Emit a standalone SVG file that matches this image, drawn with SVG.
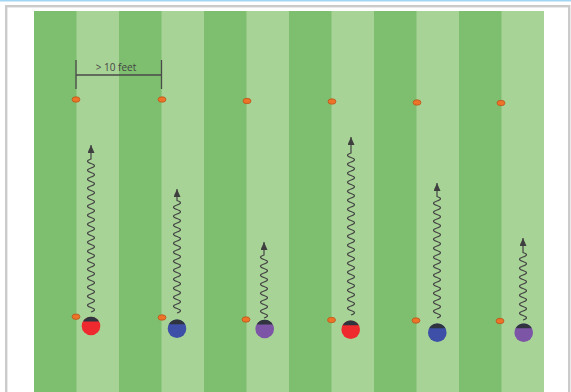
<svg xmlns="http://www.w3.org/2000/svg" width="571" height="392" viewBox="0 0 571 392">
<style>
.dark{fill:#7ebe6f}
.cone{fill:#ec7328;stroke:#b9561c;stroke-width:0.8}
.cap{fill:#30343f}
.run{fill:none;stroke:#454545;stroke-width:1.2;marker-end:url(#ah)}
.dim{stroke:#4a4a4a;stroke-width:1.3;fill:none}
.lbl{font-family:"Open Sans","Liberation Sans",sans-serif;font-size:10px;fill:#444}
</style>
<defs>
<marker id="ah" markerUnits="userSpaceOnUse" markerWidth="8" markerHeight="7" viewBox="0 0 8 7" refX="8" refY="3.5" orient="auto">
<path d="M0,0 L8,3.5 L0,7 z" fill="#3f3f3f"/>
</marker>
</defs>
<rect x="0" y="0" width="571" height="392" fill="#ffffff"/>
<rect x="0" y="0" width="571" height="1.5" fill="#a3d6f2"/>
<rect x="6.2" y="6.2" width="563" height="400" fill="none" stroke="#cbcbcb" stroke-width="2.4"/>
<g id="field">
<rect x="34" y="11" width="510" height="381" fill="#a8d396"/>
<rect class="dark" x="34" y="11" width="42.5" height="381"/>
<rect class="dark" x="119" y="11" width="42.5" height="381"/>
<rect class="dark" x="204" y="11" width="42.5" height="381"/>
<rect class="dark" x="289" y="11" width="42.5" height="381"/>
<rect class="dark" x="374" y="11" width="42.5" height="381"/>
<rect class="dark" x="459" y="11" width="42.5" height="381"/>
</g>
<g id="dimension">
<path class="dim" d="M76,60 V89 M161.5,60 V89 M76,75 H161.5"/>
<text class="lbl" x="116" y="71" text-anchor="middle">&gt; 10 feet</text>
</g>
<g id="cones">
<ellipse class="cone" cx="76" cy="99.5" rx="4" ry="2.7"/>
<ellipse class="cone" cx="162" cy="99.5" rx="4" ry="2.7"/>
<ellipse class="cone" cx="247" cy="101" rx="4" ry="2.7"/>
<ellipse class="cone" cx="332" cy="101.5" rx="4" ry="2.7"/>
<ellipse class="cone" cx="417" cy="102.5" rx="4" ry="2.7"/>
<ellipse class="cone" cx="501" cy="103" rx="4" ry="2.7"/>
<ellipse class="cone" cx="76" cy="316.7" rx="4" ry="2.7"/>
<ellipse class="cone" cx="162" cy="317.5" rx="4" ry="2.7"/>
<ellipse class="cone" cx="246" cy="319.5" rx="4" ry="2.7"/>
<ellipse class="cone" cx="331.5" cy="320" rx="4" ry="2.7"/>
<ellipse class="cone" cx="416" cy="320.5" rx="4" ry="2.7"/>
<ellipse class="cone" cx="500" cy="321" rx="4" ry="2.7"/>
</g>
<g id="connectors">
<path class="run" d="M91,312 q7,-2.25 0,-4.5 t0,-4.5 t0,-4.5 t0,-4.5 t0,-4.5 t0,-4.5 t0,-4.5 t0,-4.5 t0,-4.5 t0,-4.5 t0,-4.5 t0,-4.5 t0,-4.5 t0,-4.5 t0,-4.5 t0,-4.5 t0,-4.5 t0,-4.5 t0,-4.5 t0,-4.5 t0,-4.5 t0,-4.5 t0,-4.5 t0,-4.5 t0,-4.5 t0,-4.5 t0,-4.5 t0,-4.5 t0,-4.5 t0,-4.5 t0,-4.5 t0,-4.5 t0,-4.5 t0,-4.5 L91,145"/>
<path class="run" d="M177,313 q7,-2.25 0,-4.5 t0,-4.5 t0,-4.5 t0,-4.5 t0,-4.5 t0,-4.5 t0,-4.5 t0,-4.5 t0,-4.5 t0,-4.5 t0,-4.5 t0,-4.5 t0,-4.5 t0,-4.5 t0,-4.5 t0,-4.5 t0,-4.5 t0,-4.5 t0,-4.5 t0,-4.5 t0,-4.5 t0,-4.5 t0,-4.5 t0,-4.5 t0,-4.5 L177,189"/>
<path class="run" d="M264,318 q7,-2.25 0,-4.5 t0,-4.5 t0,-4.5 t0,-4.5 t0,-4.5 t0,-4.5 t0,-4.5 t0,-4.5 t0,-4.5 t0,-4.5 t0,-4.5 t0,-4.5 t0,-4.5 t0,-4.5 L264,242"/>
<path class="run" d="M351,315 q7,-2.25 0,-4.5 t0,-4.5 t0,-4.5 t0,-4.5 t0,-4.5 t0,-4.5 t0,-4.5 t0,-4.5 t0,-4.5 t0,-4.5 t0,-4.5 t0,-4.5 t0,-4.5 t0,-4.5 t0,-4.5 t0,-4.5 t0,-4.5 t0,-4.5 t0,-4.5 t0,-4.5 t0,-4.5 t0,-4.5 t0,-4.5 t0,-4.5 t0,-4.5 t0,-4.5 t0,-4.5 t0,-4.5 t0,-4.5 t0,-4.5 t0,-4.5 t0,-4.5 t0,-4.5 t0,-4.5 t0,-4.5 t0,-4.5 L351,137"/>
<path class="run" d="M437,318 q7,-2.25 0,-4.5 t0,-4.5 t0,-4.5 t0,-4.5 t0,-4.5 t0,-4.5 t0,-4.5 t0,-4.5 t0,-4.5 t0,-4.5 t0,-4.5 t0,-4.5 t0,-4.5 t0,-4.5 t0,-4.5 t0,-4.5 t0,-4.5 t0,-4.5 t0,-4.5 t0,-4.5 t0,-4.5 t0,-4.5 t0,-4.5 t0,-4.5 t0,-4.5 t0,-4.5 t0,-4.5 L437,183"/>
<path class="run" d="M523,320 q7,-2.25 0,-4.5 t0,-4.5 t0,-4.5 t0,-4.5 t0,-4.5 t0,-4.5 t0,-4.5 t0,-4.5 t0,-4.5 t0,-4.5 t0,-4.5 t0,-4.5 t0,-4.5 t0,-4.5 t0,-4.5 L523,238"/>
</g>
<g id="player1" transform="translate(91,326)">
<circle r="9.3" fill="#ee2a2f"/><path class="cap" d="M-8.1,-4.5 A9.3,9.3 0 0 1 8.1,-4.5 Z"/>
</g>
<g id="player2" transform="translate(177,328.7)">
<circle r="9.3" fill="#3d4fa6"/><path class="cap" d="M-8.1,-4.5 A9.3,9.3 0 0 1 8.1,-4.5 Z"/>
</g>
<g id="player3" transform="translate(264.7,329)">
<circle r="9.3" fill="#7d55a7"/><path class="cap" d="M-8.1,-4.5 A9.3,9.3 0 0 1 8.1,-4.5 Z"/>
</g>
<g id="player4" transform="translate(350.7,329.7)">
<circle r="9.3" fill="#ee2a2f"/><path class="cap" d="M-8.1,-4.5 A9.3,9.3 0 0 1 8.1,-4.5 Z"/>
</g>
<g id="player5" transform="translate(437.3,332.7)">
<circle r="9.3" fill="#3d4fa6"/><path class="cap" d="M-8.1,-4.5 A9.3,9.3 0 0 1 8.1,-4.5 Z"/>
</g>
<g id="player6" transform="translate(523.7,332.7)">
<circle r="9.3" fill="#7d55a7"/><path class="cap" d="M-8.1,-4.5 A9.3,9.3 0 0 1 8.1,-4.5 Z"/>
</g>
</svg>
